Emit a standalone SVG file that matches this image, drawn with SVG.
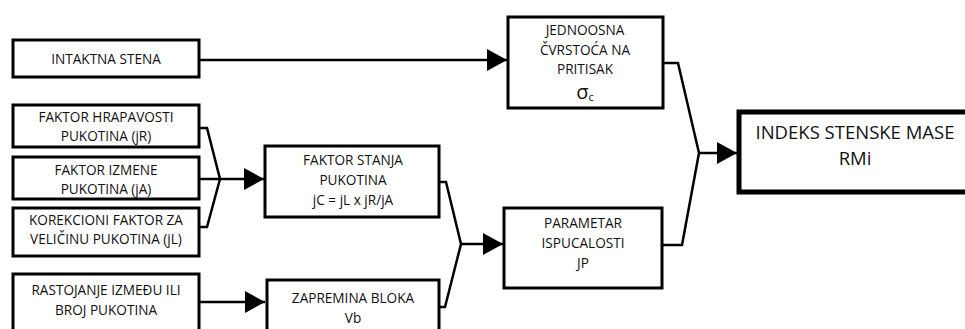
<svg xmlns="http://www.w3.org/2000/svg" width="965" height="329" viewBox="0 0 965 329">
<style>
.box{fill:#fff;stroke:#000;stroke-width:3}
.big{fill:#fff;stroke:#000;stroke-width:5}
.t{font-family:"Open Sans","Liberation Sans",sans-serif;font-size:13.6px;fill:#111;text-anchor:middle}
.tb{font-family:"Open Sans","Liberation Sans",sans-serif;font-size:18.5px;fill:#111;text-anchor:middle}
.c{fill:none;stroke:#000;stroke-width:2.5;stroke-linejoin:miter}
</style>
<defs>
<marker id="ah" markerUnits="userSpaceOnUse" markerWidth="20" markerHeight="22" refX="20" refY="11" orient="auto">
<path d="M0,0 L20,11 L0,22 z" fill="#000"/>
</marker>
</defs>
<rect width="965" height="329" fill="#fff"/>
<g id="connectors">
<path class="c" d="M199,60 L507,60" marker-end="url(#ah)"/>
<path class="c" d="M199,128 L207,128 L220,179 L207,227 L199,227"/>
<path class="c" d="M199,179 L264,179" marker-end="url(#ah)"/>
<path class="c" d="M199,302 L265,302" marker-end="url(#ah)"/>
<path class="c" d="M439,182 L446,182 L461,244 L445,307 L439,307"/>
<path class="c" d="M461,244 L503,244" marker-end="url(#ah)"/>
<path class="c" d="M663,63 L678,63 L699,153 L682,245 L662,245"/>
<path class="c" d="M699,153 L737,153" marker-end="url(#ah)"/>
</g>
<g id="n-intaktna">
<rect class="box" x="13" y="40" width="186" height="37"/>
<text class="t" x="106" y="64">INTAKTNA STENA</text>
</g>
<g id="n-hrapavost">
<rect class="box" x="13" y="105" width="186" height="42"/>
<text class="t" x="106" y="122">FAKTOR HRAPAVOSTI</text>
<text class="t" x="106" y="141">PUKOTINA (jR)</text>
</g>
<g id="n-izmena">
<rect class="box" x="13" y="157" width="186" height="42"/>
<text class="t" x="106" y="174.5">FAKTOR IZMENE</text>
<text class="t" x="106" y="193.5">PUKOTINA (jA)</text>
</g>
<g id="n-korekcija">
<rect class="box" x="13" y="208" width="186" height="48"/>
<text class="t" x="106" y="224.5">KOREKCIONI FAKTOR ZA</text>
<text class="t" x="106" y="244">VELIČINU PUKOTINA (jL)</text>
</g>
<g id="n-rastojanje">
<rect class="box" x="13" y="274" width="186" height="70"/>
<text class="t" x="106" y="294.5">RASTOJANJE IZMEĐU ILI</text>
<text class="t" x="106" y="314.5">BROJ PUKOTINA</text>
</g>
<g id="n-stanje">
<rect class="box" x="265" y="146" width="174" height="71"/>
<text class="t" x="353" y="165">FAKTOR STANJA</text>
<text class="t" x="353" y="184.5">PUKOTINA</text>
<text class="t" x="353" y="204.5">jC = jL x jR/jA</text>
</g>
<g id="n-zapremina">
<rect class="box" x="267" y="280" width="172" height="60"/>
<text class="t" x="353" y="303">ZAPREMINA BLOKA</text>
<text class="t" x="353" y="322.5">Vb</text>
</g>
<g id="n-jednoosna">
<rect class="box" x="508" y="17" width="155" height="91"/>
<text class="t" x="585" y="34.5">JEDNOOSNA</text>
<text class="t" x="585" y="54.5">ČVRSTOĆA NA</text>
<text class="t" x="585" y="73.5">PRITISAK</text>
<text class="t" x="585" y="99"><tspan font-size="20">σ</tspan><tspan font-size="11" dy="2">c</tspan></text>
</g>
<g id="n-parametar">
<rect class="box" x="504" y="208" width="158" height="80"/>
<text class="t" x="583" y="228">PARAMETAR</text>
<text class="t" x="583" y="248">ISPUCALOSTI</text>
<text class="t" x="583" y="268">JP</text>
</g>
<g id="n-rmi">
<rect class="big" x="739" y="112" width="240" height="80"/>
<text class="tb" x="855" y="138.5">INDEKS STENSKE MASE</text>
<text class="tb" x="855" y="165">RMi</text>
</g>
</svg>
